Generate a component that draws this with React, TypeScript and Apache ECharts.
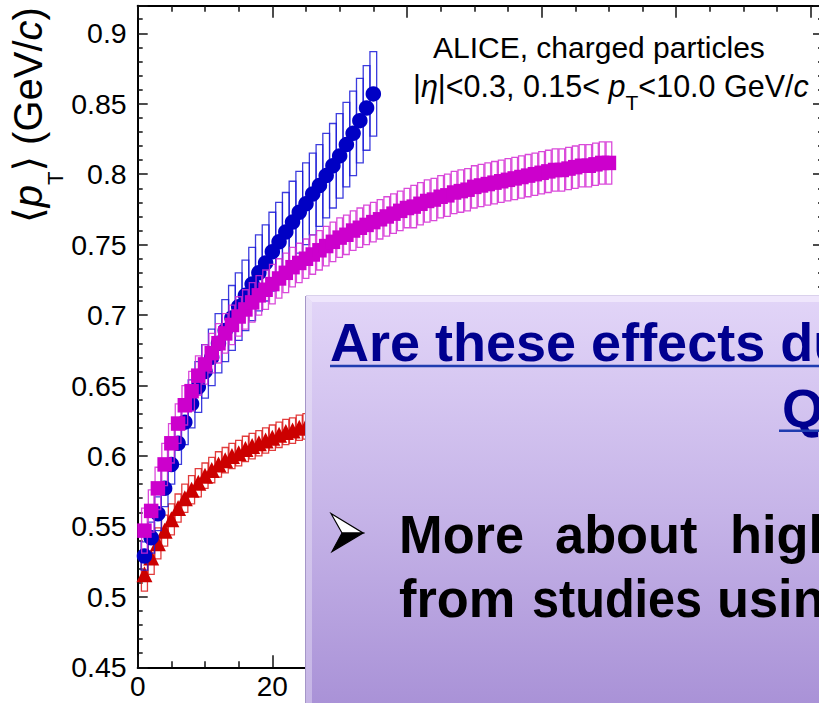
import React, { useEffect, useRef } from "react";
import * as echarts from "echarts";

// ---- data ----
const blueNch = [1, 2, 3, 4, 5, 6, 7, 8, 9, 10, 11, 12, 13, 14, 15, 16, 17, 18, 19, 20, 21, 22, 23, 24, 25, 26, 27, 28, 29, 30, 31, 32, 33, 34, 35];
const blueMean = [0.529, 0.542, 0.559, 0.577, 0.594, 0.609, 0.624, 0.637, 0.649, 0.66, 0.67, 0.68, 0.689, 0.698, 0.706, 0.714, 0.722, 0.73, 0.737, 0.745, 0.752, 0.759, 0.766, 0.773, 0.779, 0.786, 0.792, 0.799, 0.806, 0.813, 0.821, 0.829, 0.838, 0.847, 0.857];
const blueSys = [0.01, 0.011, 0.012, 0.013, 0.014, 0.015, 0.016, 0.017, 0.018, 0.019, 0.02, 0.021, 0.022, 0.023, 0.024, 0.025, 0.026, 0.027, 0.027, 0.028, 0.028, 0.028, 0.029, 0.029, 0.029, 0.029, 0.029, 0.03, 0.03, 0.03, 0.03, 0.03, 0.03, 0.03, 0.03];

const magNch = [1, 2, 3, 4, 5, 6, 7, 8, 9, 10, 11, 12, 13, 14, 15, 16, 17, 18, 19, 20, 21, 22, 23, 24, 25, 26, 27, 28, 29, 30, 31, 32, 33, 34, 35, 36, 37, 38, 39, 40, 41, 42, 43, 44, 45, 46, 47, 48, 49, 50, 51, 52, 53, 54, 55, 56, 57, 58, 59, 60, 61, 62, 63, 64, 65, 66, 67, 68, 69, 70];
const magMean = [0.547, 0.561, 0.577, 0.594, 0.609, 0.623, 0.636, 0.646, 0.657, 0.665, 0.673, 0.68, 0.687, 0.693, 0.699, 0.704, 0.709, 0.714, 0.718, 0.722, 0.726, 0.73, 0.734, 0.737, 0.74, 0.743, 0.746, 0.749, 0.752, 0.755, 0.757, 0.76, 0.762, 0.764, 0.766, 0.768, 0.77, 0.772, 0.774, 0.776, 0.777, 0.779, 0.781, 0.782, 0.784, 0.785, 0.787, 0.788, 0.789, 0.791, 0.792, 0.793, 0.794, 0.795, 0.796, 0.797, 0.798, 0.799, 0.8, 0.801, 0.802, 0.803, 0.803, 0.804, 0.805, 0.806, 0.806, 0.807, 0.808, 0.808];
const magSys = [0.016, 0.015, 0.015, 0.015, 0.014, 0.014, 0.014, 0.014, 0.014, 0.014, 0.014, 0.014, 0.014, 0.014, 0.014, 0.014, 0.014, 0.014, 0.014, 0.014, 0.014, 0.014, 0.014, 0.014, 0.014, 0.014, 0.014, 0.014, 0.014, 0.014, 0.014, 0.014, 0.014, 0.014, 0.014, 0.014, 0.014, 0.014, 0.014, 0.014, 0.015, 0.015, 0.015, 0.015, 0.015, 0.015, 0.015, 0.015, 0.015, 0.015, 0.015, 0.015, 0.015, 0.015, 0.015, 0.015, 0.015, 0.015, 0.015, 0.015, 0.015, 0.015, 0.015, 0.015, 0.015, 0.015, 0.015, 0.015, 0.015, 0.015];

const redNch = [1, 2, 3, 4, 5, 6, 7, 8, 9, 10, 11, 12, 13, 14, 15, 16, 17, 18, 19, 20, 21, 22, 23, 24, 25];
const redMean = [0.516, 0.528, 0.538, 0.547, 0.555, 0.563, 0.57, 0.576, 0.581, 0.586, 0.59, 0.594, 0.597, 0.6, 0.602, 0.605, 0.607, 0.609, 0.611, 0.613, 0.615, 0.617, 0.618, 0.62, 0.621];
const redSys = [0.012, 0.012, 0.011, 0.011, 0.011, 0.01, 0.01, 0.01, 0.01, 0.009, 0.009, 0.009, 0.009, 0.009, 0.009, 0.009, 0.009, 0.009, 0.009, 0.009, 0.009, 0.009, 0.009, 0.009, 0.009];

const FONT = "'Liberation Sans', Arial, Helvetica, sans-serif";
const BOLD = "bold 54px " + FONT;

function boxSeries(name: string, nch: number[], mean: number[], sys: number[], halfW: number, color: string, z: number) {
  return {
    type: "custom",
    name,
    clip: true,
    z,
    data: nch.map((n, i) => [n, mean[i], sys[i]]),
    renderItem: (params: any, api: any) => {
      const x = api.value(0);
      const y = api.value(1);
      const e = api.value(2);
      const p1 = api.coord([x - halfW, y + e]);
      const p2 = api.coord([x + halfW, y - e]);
      return {
        type: "rect",
        shape: { x: p1[0], y: p1[1], width: p2[0] - p1[0], height: p2[1] - p1[1] },
        style: { fill: "none", stroke: color, lineWidth: 1.3, opacity: 0.85 },
      };
    },
  };
}

function markerSeries(name: string, nch: number[], mean: number[], symbol: string, size: number, color: string, z: number) {
  return {
    type: "scatter",
    name,
    z,
    symbol,
    symbolSize: size,
    itemStyle: { color, opacity: 1 },
    data: nch.map((n, i) => [n, mean[i]]),
  };
}

function word(text: string, x: number, y: number, fill: string, scaleX = 1) {
  return {
    type: "text", x, y, z: 103, scaleX,
    style: { text, font: BOLD, fill, align: "left", verticalAlign: "middle" },
  };
}

export default function App() {
  const ref = useRef<HTMLDivElement>(null);
  useEffect(() => {
    if (!ref.current) return;
    const chart = echarts.init(ref.current, undefined, { renderer: "svg" });
    const axisLine = { show: true, onZero: false, lineStyle: { color: "#000", width: 2 } };
    const option: any = {
      animation: false,
      backgroundColor: "#fff",
      grid: { left: 137.7, top: 5.7, width: 685.3, height: 661.6, containLabel: false },
      xAxis: [
        {
          type: "value", position: "bottom", min: 0, max: 101.8, interval: 20,
          axisLine,
          axisTick: { show: true, inside: true, length: 12, lineStyle: { color: "#111", width: 1.5 } },
          minorTick: { show: true, splitNumber: 4, length: 6, lineStyle: { color: "#111", width: 1.5 } },
          splitLine: { show: false },
          axisLabel: {
            show: true, showMaxLabel: false, margin: 5, color: "#000", fontSize: 28, fontFamily: FONT,
            formatter: (v: number) => (v <= 80 ? String(v) : ""),
          },
        },
        {
          type: "value", position: "top", min: 0, max: 101.8, interval: 20,
          axisLine,
          axisTick: { show: true, inside: true, length: 12, lineStyle: { color: "#111", width: 1.5 } },
          minorTick: { show: true, splitNumber: 4, length: 6, lineStyle: { color: "#111", width: 1.5 } },
          splitLine: { show: false },
          axisLabel: { show: false },
        },
      ],
      yAxis: [
        {
          type: "value", position: "left", min: 0.45, max: 0.9196, interval: 0.05,
          axisLine,
          axisTick: { show: true, inside: true, length: 10, lineStyle: { color: "#111", width: 1.5 } },
          minorTick: { show: true, splitNumber: 5, length: 5, lineStyle: { color: "#111", width: 1.5 } },
          splitLine: { show: false },
          axisLabel: { show: true, showMaxLabel: false, margin: 11, color: "#000", fontSize: 28.5, fontFamily: FONT },
        },
        {
          type: "value", position: "right", min: 0.45, max: 0.9196, interval: 0.05,
          axisLine,
          axisTick: { show: true, inside: true, length: 10, lineStyle: { color: "#111", width: 1.5 } },
          minorTick: { show: true, splitNumber: 5, length: 5, lineStyle: { color: "#111", width: 1.5 } },
          splitLine: { show: false },
          axisLabel: { show: false },
        },
      ],
      series: [
        boxSeries("red sys", redNch, redMean, redSys, 0.45, "#dd1a1a", 2),
        markerSeries("red", redNch, redMean, "triangle", 16, "#cc0000", 3),
        boxSeries("blue sys", blueNch, blueMean, blueSys, 0.5, "#1a1ad8", 4),
        markerSeries("blue", blueNch, blueMean, "circle", 15.5, "#0000c4", 5),
        boxSeries("magenta sys", magNch, magMean, magSys, 0.42, "#d42ad4", 6),
        markerSeries("magenta", magNch, magMean, "rect", 14.5, "#cc00cc", 7),
      ],
      graphic: [
        {
          type: "text", x: 28, y: 115, rotation: Math.PI / 2, z: 100,
          style: {
            text: "{a|\u27e8}{i|p}{s|T}{a|\u27e9}{n| (GeV/}{i|c}{n|)}",
            align: "center", verticalAlign: "middle", fill: "#000",
            rich: {
              a: { fontSize: 40, fontFamily: "'DejaVu Sans', " + FONT, lineHeight: 76, verticalAlign: "middle", fill: "#000" },
              i: { fontSize: 40, fontFamily: FONT, fontStyle: "italic", lineHeight: 76, verticalAlign: "middle", fill: "#000" },
              n: { fontSize: 40, fontFamily: FONT, lineHeight: 76, verticalAlign: "middle", fill: "#000" },
              s: { fontSize: 22, fontFamily: FONT, lineHeight: 22, verticalAlign: "bottom", fill: "#000" },
            },
          },
        },
        {
          type: "text", x: 433, y: 47, z: 100,
          style: { text: "ALICE, charged particles", font: "30px " + FONT, fill: "#000", align: "left", verticalAlign: "middle" },
        },
        {
          type: "text", x: 413, y: 85.5, z: 100,
          style: {
            text: "{n||}{i|\u03b7}{n||<0.3, 0.15< }{i|p}{s|T}{n|<10.0 GeV/}{i|c}",
            align: "left", verticalAlign: "middle", fill: "#000",
            rich: {
              n: { fontSize: 30.5, fontFamily: FONT, lineHeight: 54, verticalAlign: "middle", fill: "#000" },
              i: { fontSize: 30.5, fontFamily: FONT, fontStyle: "italic", lineHeight: 54, verticalAlign: "middle", fill: "#000" },
              s: { fontSize: 21, fontFamily: FONT, lineHeight: 21, verticalAlign: "bottom", fill: "#000" },
            },
          },
        },
        // overlay box
        {
          type: "rect", z: 100,
          shape: { x: 306, y: 296, width: 560, height: 430 },
          style: {
            fill: { type: "linear", x: 0, y: 0, x2: 0, y2: 1, colorStops: [
              { offset: 0, color: "#e2d5f8" }, { offset: 0.5, color: "#c6b4e8" }, { offset: 1, color: "#a68ed5" },
            ] },
            stroke: "#b4a3d9", lineWidth: 1,
          },
        },
        {
          type: "polygon", z: 101,
          shape: { points: [[306, 296], [866, 296], [866, 302], [312, 302]] },
          style: { fill: "#efe6fc" },
        },
        {
          type: "polygon", z: 101,
          shape: { points: [[306, 296], [312, 302], [312, 726], [306, 726]] },
          style: {
            fill: { type: "linear", x: 0, y: 0, x2: 0, y2: 1, colorStops: [
              { offset: 0, color: "#e9e0f8" }, { offset: 1, color: "#c3b2e4" },
            ] },
          },
        },
        { type: "line", z: 102, shape: { x1: 305.5, y1: 296, x2: 305.5, y2: 726 }, style: { stroke: "#a596c8", lineWidth: 1 } },
        word("Are these effects du", 330, 342.3, "#00008f"),
        { type: "rect", z: 103, shape: { x: 330, y: 364.8, width: 540, height: 2.5 }, style: { fill: "#1f3cb0" } },
        word("Q", 782, 407.5, "#00008f"),
        { type: "rect", z: 103, shape: { x: 779, y: 429.5, width: 90, height: 2.5 }, style: { fill: "#1f3cb0" } },
        // arrow bullet
        {
          type: "polygon", z: 103,
          shape: { points: [[331, 513.5], [363, 533], [342, 533]] },
          style: { fill: "#ffffff", stroke: "#000", lineWidth: 1.2 },
        },
        {
          type: "polygon", z: 103,
          shape: { points: [[342, 533], [363, 533], [332, 551.5]] },
          style: { fill: "#000", stroke: "#000", lineWidth: 1.2 },
        },
        word("More", 399, 534.3, "#000", 0.97),
        word("about", 555, 534.3, "#000", 0.97),
        word("high", 730, 534.3, "#000", 0.97),
        word("from", 399, 598.3, "#000", 0.97),
        word("studies", 532, 598.3, "#000", 0.9),
        word("usin", 717, 598.3, "#000", 0.97),
      ],
    };
    chart.setOption(option);
    return () => chart.dispose();
  }, []);
  return (
    <div style={{ position: "fixed", left: 0, top: 0, width: 819, height: 703, overflow: "hidden", background: "#fff" }}>
      <div ref={ref} style={{ width: 870, height: 703 }} />
    </div>
  );
}
